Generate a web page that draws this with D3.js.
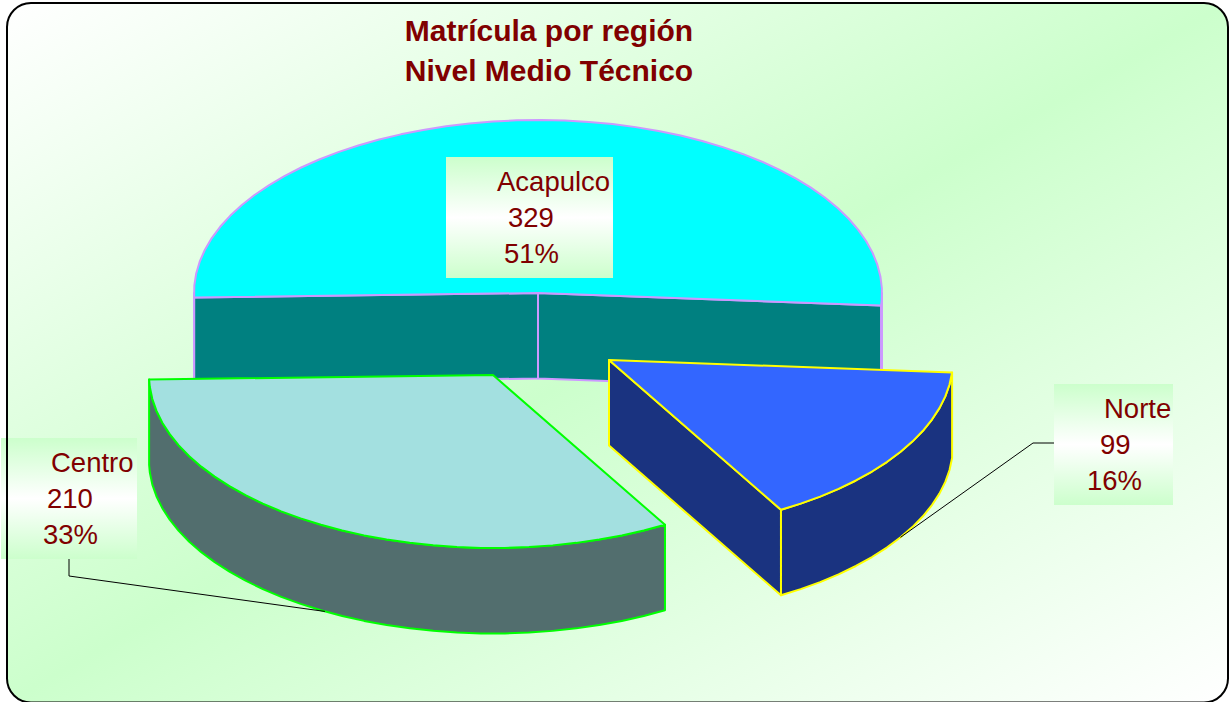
<!DOCTYPE html>
<html>
<head>
<meta charset="utf-8">
<script src="https://cdn.jsdelivr.net/npm/d3@7"></script>
<style>
    html, body { margin: 0; padding: 0; background: #fff; }
    svg { display: block; }
    text { font-family: "Liberation Sans", Arial, sans-serif; fill: #800000; }
</style>
</head>
<body>
<div id="chart"></div>
<script>
// data, in drawing order
const regions = ['Acapulco', 'Norte', 'Centro'];
const students = [329, 99, 210];
const percents = ['51%', '16%', '33%'];
const titleLines = ['Matrícula por región', 'Nivel Medio Técnico'];

// slice colours
const topColors = ['#00ffff', '#3366ff', '#a3e0e0'];
const sideColors = ['#008080', '#1a3380', '#526e6e'];
const edgeColors = ['#cc99ff', '#ffff00', '#00ff00'];

const width = 1229;
const height = 702;

// each slice is pulled out of the pie, so it has its own centre
const centers = [[538, 293], [609, 360], [493, 375]];
const radiusX = 344;
const radiusY = 173;
const depth = 85.5;

// label boxes: box corner, size, and the x of each text line
const labelBoxes = [
    { x: 446, y: 157, w: 167, h: 121, lineX: [497, 508, 504] },
    { x: 1054, y: 384, w: 119, h: 121, lineX: [1104, 1100, 1087] },
    { x: 1, y: 438, w: 136, h: 121, lineX: [51, 47, 43] },
];
// leader lines start on the box, bend once, then run to the slice
const leaders = [
    null,
    { start: [1054, 443], bend: [1033, 443] },
    { start: [69, 559], bend: [69, 576] },
];

const svg = d3.select('#chart')
    .append('svg')
    .attr('width', width)
    .attr('height', height);

const defs = svg.append('defs');

const bgGradient = defs.append('linearGradient')
    .attr('id', 'bg-gradient')
    .attr('x1', '0%').attr('y1', '0%')
    .attr('x2', '100%').attr('y2', '100%');
bgGradient.append('stop').attr('offset', '0%').attr('stop-color', '#fff');
bgGradient.append('stop').attr('offset', '50%').attr('stop-color', '#ccffcc');
bgGradient.append('stop').attr('offset', '100%').attr('stop-color', '#fff');

const labelGradient = defs.append('linearGradient')
    .attr('id', 'label-gradient')
    .attr('x1', '0%').attr('y1', '0%')
    .attr('x2', '0%').attr('y2', '100%');
labelGradient.append('stop').attr('offset', '0%').attr('stop-color', '#ccffcc');
labelGradient.append('stop').attr('offset', '50%').attr('stop-color', '#fff');
labelGradient.append('stop').attr('offset', '100%').attr('stop-color', '#ccffcc');

// chart area
const frame = { x: 7, y: 3, width: 1221, height: 699.5, r: 24 };
svg.append('rect')
    .attr('x', frame.x).attr('y', frame.y)
    .attr('width', frame.width).attr('height', frame.height)
    .attr('rx', frame.r).attr('ry', frame.r)
    .attr('fill', 'url(#bg-gradient)');

const toRad = Math.PI / 180;
const pie = d3.pie()
    .sort(null)
    .startAngle(-91.5 * toRad)
    .endAngle(268.5 * toRad);
const arcs = pie(students);

// project a pie angle (0 = back, clockwise) onto the tilted plane
const xUnit = d3.scaleLinear().domain([-1, 1]).range([-radiusX, radiusX]);
const yUnit = d3.scaleLinear().domain([-1, 1]).range([radiusY, -radiusY]);
const project = (center, angle, drop = 0) => [
    center[0] + xUnit(Math.sin(angle)),
    center[1] + yUnit(Math.cos(angle)) + drop,
];

// the rim is faceted in the original, so keep fairly coarse steps
const rimAngles = (a0, a1) => {
    const step = 4 * toRad;
    return d3.range(a0, a1, step).concat([a1]);
};

const line = d3.line();

const pieGroup = svg.append('g');

function drawFace(points, fill, stroke) {
    pieGroup.append('path')
        .attr('d', line(points) + 'Z')
        .attr('fill', fill)
        .attr('stroke', stroke)
        .attr('stroke-width', 2)
        .attr('stroke-linejoin', 'round');
}

function cutWall(center, angle) {
    const edge = project(center, angle);
    const edgeLow = project(center, angle, depth);
    return [center, edge, edgeLow, [center[0], center[1] + depth]];
}

// front half of the rim: angles between 90 and 270 degrees
function frontRanges(a0, a1) {
    const ranges = [];
    [-360, 0, 360].forEach((turn) => {
        const lo = Math.max(a0, (90 + turn) * toRad);
        const hi = Math.min(a1, (270 + turn) * toRad);
        if (lo < hi) ranges.push([lo, hi]);
    });
    return ranges;
}

arcs.forEach((d, i) => {
    const center = centers[i];
    const fill = sideColors[i];
    const stroke = edgeColors[i];

    if (Math.sin(d.startAngle) < 0) drawFace(cutWall(center, d.startAngle), fill, stroke);
    if (Math.sin(d.endAngle) > 0) drawFace(cutWall(center, d.endAngle), fill, stroke);

    frontRanges(d.startAngle, d.endAngle).forEach(([lo, hi]) => {
        const angles = rimAngles(lo, hi);
        const upper = angles.map((a) => project(center, a));
        const lower = angles.slice().reverse().map((a) => project(center, a, depth));
        drawFace(upper.concat(lower), fill, stroke);
    });

    const rim = rimAngles(d.startAngle, d.endAngle).map((a) => project(center, a));
    drawFace([center].concat(rim), topColors[i], stroke);
});

// leader lines end at the middle of the slice, on its lower rim
const leaderLine = d3.line();
arcs.forEach((d, i) => {
    if (!leaders[i]) return;
    const mid = (d.startAngle + d.endAngle) / 2;
    svg.append('path')
        .attr('d', leaderLine([leaders[i].start, leaders[i].bend, project(centers[i], mid, depth)]))
        .attr('fill', 'none')
        .attr('stroke', '#000')
        .attr('stroke-width', 1);
});

// labels
regions.forEach((name, i) => {
    const box = labelBoxes[i];
    svg.append('rect')
        .attr('x', box.x).attr('y', box.y)
        .attr('width', box.w).attr('height', box.h)
        .attr('fill', 'url(#label-gradient)');

    [name, String(students[i]), percents[i]].forEach((txt, j) => {
        svg.append('text')
            .attr('x', box.lineX[j])
            .attr('y', box.y + 34 + j * 36)
            .attr('font-size', 27.5)
            .text(txt);
    });
});

// the frame line sits on top of the Centro label box
svg.append('rect')
    .attr('x', frame.x).attr('y', frame.y)
    .attr('width', frame.width).attr('height', frame.height)
    .attr('rx', frame.r).attr('ry', frame.r)
    .attr('fill', 'none')
    .attr('stroke', '#000')
    .attr('stroke-width', 2);

// title
svg.selectAll('.title')
    .data(titleLines)
    .enter()
    .append('text')
    .attr('class', 'title')
    .attr('x', 549)
    .attr('y', (d, i) => 41 + i * 40)
    .attr('text-anchor', 'middle')
    .attr('font-size', 30)
    .attr('font-weight', 'bold')
    .text((d) => d);
</script>
</body>
</html>
